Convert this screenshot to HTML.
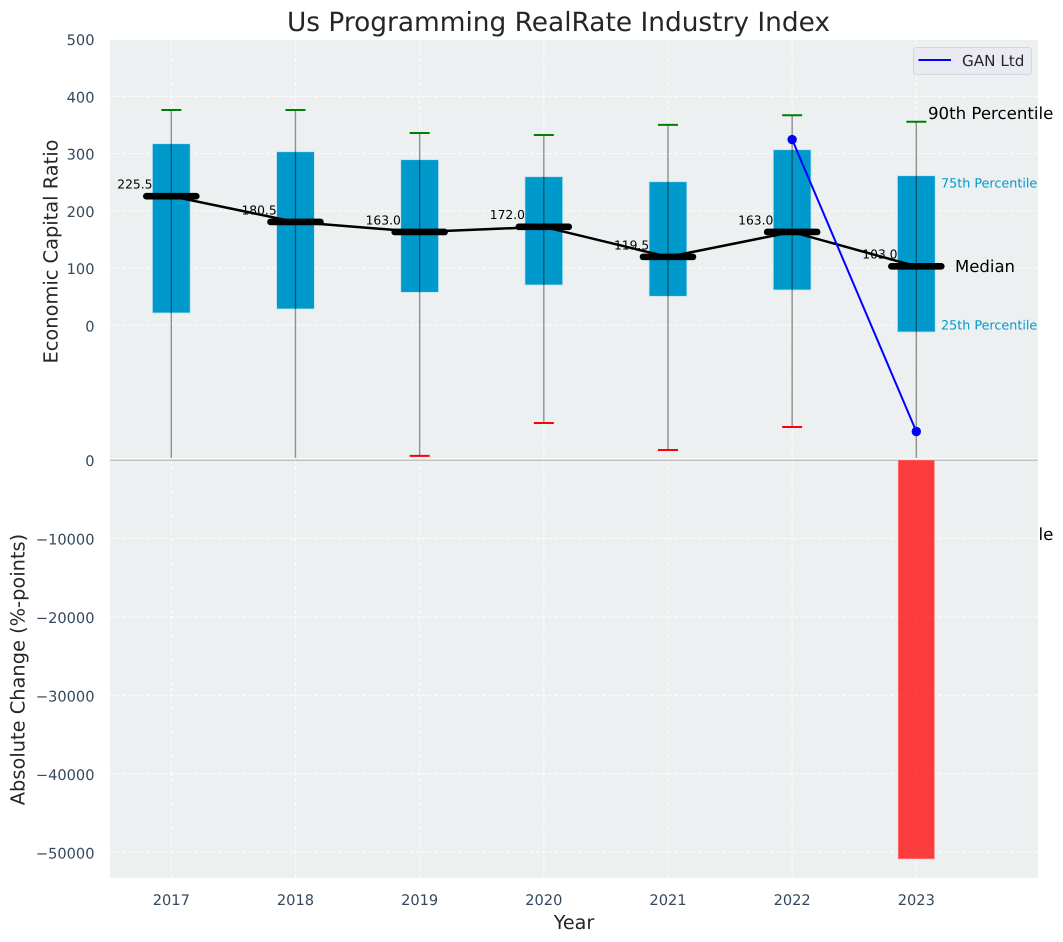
<!DOCTYPE html>
<html lang="en">
<head>
<meta charset="utf-8">
<title>Us Programming RealRate Industry Index</title>
<style>
html,body{margin:0;padding:0;background:#fff;}
svg{display:block;font-family:"DejaVu Sans","Liberation Sans",sans-serif;text-rendering:geometricPrecision;}
</style>
</head>
<body>
<svg id="chart" width="1063" height="942" viewBox="0 0 1063 942" xmlns="http://www.w3.org/2000/svg"></svg>
<script>
const years = [2017, 2018, 2019, 2020, 2021, 2022, 2023];
const medians = [225.5, 180.5, 163.0, 172.0, 119.5, 163.0, 103.0];
const q1Values = [21.5, 28.5, 57.6, 70.4, 50.6, 61.7, -11.7];
const q3Values = [317.2, 303.2, 289.3, 259.6, 250.8, 306.7, 261.3];
const p90Values = [376, 376, 336, 332.4, 350, 367, 355.6];
const p10Values = [-300, -300, -228, -170.7, -217.8, -177.6, -300];
const ganYears = [2022, 2023];
const ganValues = [324.5, -185.5];
const changeYears = [2023];
const changeValues = [-50820];
const topTicks = [0, 100, 200, 300, 400, 500];
const bottomTicks = [0, -10000, -20000, -30000, -40000, -50000];

const NS = 'http://www.w3.org/2000/svg';
const svg = document.getElementById('chart');
const PL = 110, PR = 1038, TT = 40, TB = 459, BT = 460, BB = 878;
const xs = v => 171.3 + (v - 2017) * 124.17;
const yTop = v => 325.3 - v * 0.5725;
const yBot = v => 460 - v * 0.007846;
const fmtTick = v => String(v).replace('-', '\u2212');

function make(tag, attrs, text, parent) {
  const el = document.createElementNS(NS, tag);
  for (const k in attrs) el.setAttribute(k, attrs[k]);
  if (text !== undefined && text !== null) el.textContent = text;
  (parent || svg).appendChild(el);
  return el;
}

/* clip whiskers and marks to the upper panel */
const defs = make('defs', {});
const clip = make('clipPath', {id: 'top-clip'}, null, defs);
make('rect', {x: PL, y: TT - 1, width: PR - PL, height: 419}, null, clip);

/* Hidden-behind-panel label: only its tail shows right of the lower axes */
const p10Label = make('text', {x: 928, y: 540, 'font-size': 16.6, fill: '#000'}, '10th Percentile');



/* panels */
const topPanel = make('rect', {x: PL, y: TT, width: PR - PL, height: TB - TT, fill: '#ecf0f1'});


const botPanel = make('rect', {x: PL, y: BT, width: PR - PL, height: BB - BT, fill: '#ecf0f1'});



/* grid */
const gridStyle = {stroke: '#ffffff', 'stroke-opacity': 0.8, 'stroke-width': 1.1, 'stroke-dasharray': '4 2'};
topTicks.forEach(function (t) {
  const g = make('line', Object.assign({x1: PL, x2: PR, y1: yTop(t), y2: yTop(t)}, gridStyle));
  
  
  const lab = make('text', {x: 94.5, y: yTop(t) + 6, 'text-anchor': 'end', 'font-size': 14.6, fill: '#34495e'}, fmtTick(t));
  
  
});
bottomTicks.forEach(function (t) {
  if (t !== 0) {
    const g = make('line', Object.assign({x1: PL, x2: PR, y1: yBot(t), y2: yBot(t)}, gridStyle));
    
    
  }
  const lab = make('text', {x: 94.5, y: yBot(t) + 6, 'text-anchor': 'end', 'font-size': 14.6, fill: '#34495e'}, fmtTick(t));
  
  
});
years.forEach(function (yr) {
  const g1 = make('line', Object.assign({x1: xs(yr), x2: xs(yr), y1: TT, y2: TB}, gridStyle));
  
  
  const g2 = make('line', Object.assign({x1: xs(yr), x2: xs(yr), y1: BT, y2: BB}, gridStyle));
  
  
  const lab = make('text', {x: xs(yr), y: 905, 'text-anchor': 'middle', 'font-size': 14.6, fill: '#34495e'}, String(yr));
  
  
});

/* boxes */
const plotGroup = make('g', {'clip-path': 'url(#top-clip)'});


years.forEach(function (yr, i) {
  const cx = xs(yr);
  const box = make('rect', {x: cx - 18.9, y: yTop(q3Values[i]), width: 37.8, height: yTop(q1Values[i]) - yTop(q3Values[i]), fill: '#0099cc', stroke: '#bfe4f0', 'stroke-width': 0.8}, null, plotGroup);
  
  
});

/* whiskers + caps */
years.forEach(function (yr, i) {
  const cx = xs(yr);
  const yLow = Math.min(yTop(p10Values[i]), 458);
  const w = make('line', {x1: cx, x2: cx, y1: yTop(p90Values[i]), y2: yLow, stroke: '#000', 'stroke-opacity': 0.42, 'stroke-width': 1.4}, null, plotGroup);
  
  
  const top = make('line', {x1: cx - 10, x2: cx + 10, y1: yTop(p90Values[i]), y2: yTop(p90Values[i]), stroke: '#008000', 'stroke-width': 2}, null, plotGroup);
  
  
  const low = make('line', {x1: cx - 10, x2: cx + 10, y1: yTop(p10Values[i]), y2: yTop(p10Values[i]), stroke: '#ff0000', 'stroke-width': 2}, null, plotGroup);
  
  
});

/* median trend line */
const trend = make('polyline', {points: years.map(function (yr, i) { return xs(yr) + ',' + yTop(medians[i]); }).join(' '), fill: 'none', stroke: '#000', 'stroke-width': 2.5}, null, plotGroup);



years.forEach(function (yr, i) {
  const cx = xs(yr);
  const m = make('line', {x1: cx - 25, x2: cx + 25, y1: yTop(medians[i]), y2: yTop(medians[i]), stroke: '#000', 'stroke-width': 6.6, 'stroke-linecap': 'round'}, null, plotGroup);
  
  
  const lab = make('text', {x: cx - 18.8, y: yTop(medians[i]) - 7.6, 'text-anchor': 'end', 'font-size': 12.3, fill: '#000'}, medians[i].toFixed(1));
  
  
});

/* GAN Ltd series */
const gan = make('polyline', {points: ganYears.map(function (yr, i) { return xs(yr) + ',' + yTop(ganValues[i]); }).join(' '), fill: 'none', stroke: '#0000ff', 'stroke-width': 2}, null, plotGroup);


ganYears.forEach(function (yr, i) {
  const p = make('circle', {cx: xs(yr), cy: yTop(ganValues[i]), r: 4.7, fill: '#0000ff'}, null, plotGroup);
  
  
});

/* lower change bars */
changeYears.forEach(function (yr, i) {
  const h = yBot(changeValues[i]) - yBot(0);
  const b = make('rect', {x: xs(yr) - 18, y: yBot(0), width: 36, height: h, fill: '#ff0000', 'fill-opacity': 0.75, stroke: '#ff7a7a', 'stroke-width': 0.8});
  
  
});

/* panel separator */
const sepW = make('line', {x1: PL, x2: PR, y1: 459, y2: 459, stroke: '#ffffff', 'stroke-width': 1.2});


const sepG = make('line', {x1: PL, x2: xs(2023) - 18, y1: 460.2, y2: 460.2, stroke: '#bcbcbc', 'stroke-width': 1.4});


const sepG2 = make('line', {x1: xs(2023) + 18, x2: PR, y1: 460.2, y2: 460.2, stroke: '#bcbcbc', 'stroke-width': 1.4});



/* percentile annotations */
const p90Label = make('text', {x: 928, y: 119, 'font-size': 16.6, fill: '#000'}, '90th Percentile');


const p75Label = make('text', {x: 941, y: 187.3, 'font-size': 12.75, fill: '#0099cc'}, '75th Percentile');


const medLabel = make('text', {x: 955, y: 272, 'font-size': 16.5, fill: '#000'}, 'Median');


const p25Label = make('text', {x: 941, y: 329.3, 'font-size': 12.75, fill: '#0099cc'}, '25th Percentile');



/* legend */
const legend = make('g', {});


const legendBox = make('rect', {x: 913.5, y: 47.5, width: 118, height: 27, rx: 3, fill: '#eaeaf2', stroke: '#d5d6dc', 'stroke-width': 1}, null, legend);


const legendLine = make('line', {x1: 918.5, x2: 951, y1: 60, y2: 60, stroke: '#0000ff', 'stroke-width': 2}, null, legend);


const legendText = make('text', {x: 962, y: 66, 'font-size': 15.2, fill: '#262626'}, 'GAN Ltd', legend);



/* titles */
const title = make('text', {x: 558.5, y: 31, 'text-anchor': 'middle', 'font-size': 26.4, fill: '#262626'}, 'Us Programming RealRate Industry Index');


const xTitle = make('text', {x: 574, y: 929, 'text-anchor': 'middle', 'font-size': 19.2, fill: '#262626'}, 'Year');


const yTitleTop = make('text', {'text-anchor': 'middle', 'font-size': 19.4, fill: '#262626', transform: 'translate(57.5,251.5) rotate(-90)'}, 'Economic Capital Ratio');


const yTitleBot = make('text', {'text-anchor': 'middle', 'font-size': 19.4, fill: '#262626', transform: 'translate(24.5,669.5) rotate(-90)'}, 'Absolute Change (%-points)');


</script>
</body>
</html>
